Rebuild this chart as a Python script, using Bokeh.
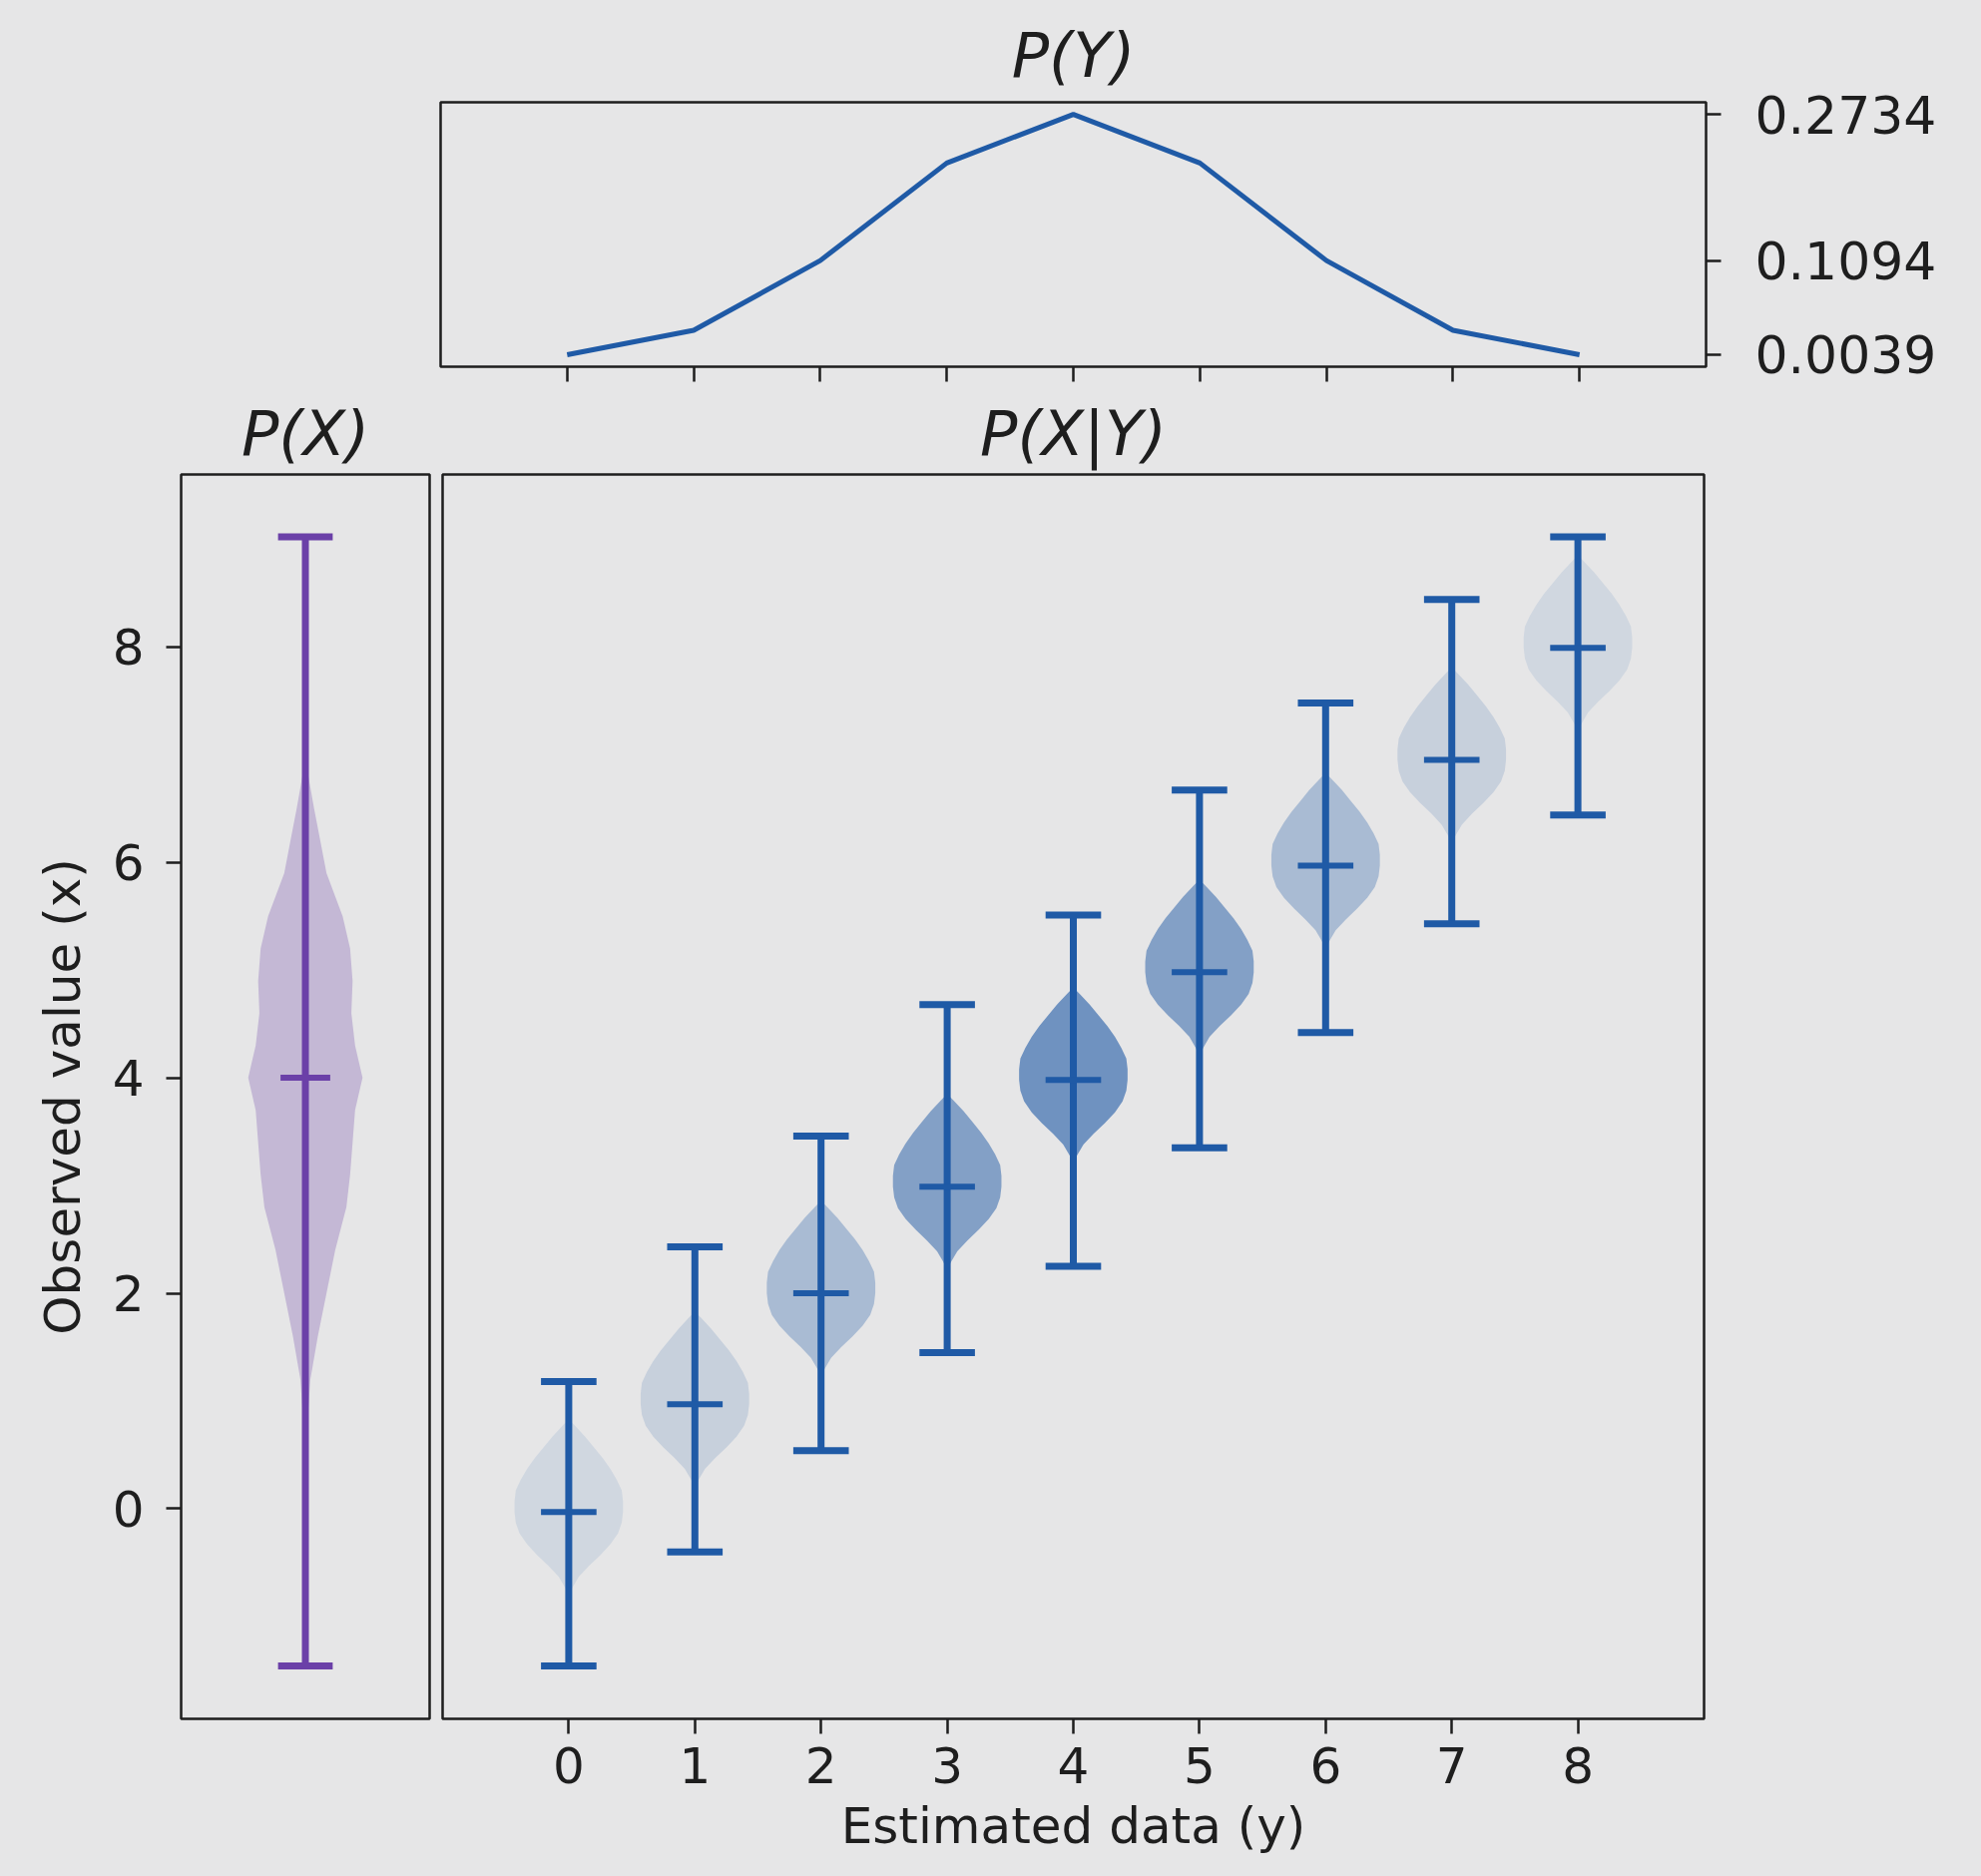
import numpy as np
from bokeh.plotting import figure
from bokeh.layouts import column, row
from bokeh.models import Range1d
from bokeh.embed import file_html
from bokeh.resources import INLINE

# ---------------- data ----------------
y_values = [0, 1, 2, 3, 4, 5, 6, 7, 8]
p_y = [0.0039, 0.0312, 0.1094, 0.2188, 0.2734, 0.2188, 0.1094, 0.0312, 0.0039]
p_y_ticks = [0.0039, 0.1094, 0.2734]
p_y_tick_labels = ["0.0039", "0.1094", "0.2734"]

x_ticks = [0, 2, 4, 6, 8]

# conditional distributions P(X|Y=y)
cond_means = [-0.03, 0.97, 2.0, 2.99, 3.98, 4.98, 5.97, 6.95, 7.99]
cond_mins = [-1.46, -0.40, 0.54, 1.45, 2.25, 3.35, 4.42, 5.43, 6.44]
cond_maxs = [1.18, 2.43, 3.46, 4.68, 5.51, 6.67, 7.48, 8.44, 9.02]
# violin outline (offset from mean, half width)
violin_offsets = [-0.78, -0.70, -0.60, -0.50, -0.40, -0.30, -0.20, -0.10, 0.0,
                  0.10, 0.20, 0.30, 0.40, 0.50, 0.60, 0.70, 0.80, 0.86]
violin_halfwidths = [0.00, 0.03, 0.08, 0.16, 0.25, 0.33, 0.39, 0.42, 0.43,
                     0.43, 0.42, 0.38, 0.33, 0.27, 0.20, 0.13, 0.05, 0.00]

# marginal P(X)
px_mean = 4.0
px_min = -1.46
px_max = 9.02
px_levels = [0.5, 0.8, 1.2, 1.6, 2.0, 2.4, 2.8, 3.1, 3.4, 3.7, 4.0, 4.3, 4.6,
             4.9, 5.2, 5.5, 5.9, 6.2, 6.5, 6.8, 7.2, 7.6]
px_halfwidths = [0.0, 0.008, 0.02, 0.05, 0.085, 0.12, 0.165, 0.18, 0.19, 0.20,
                 0.23, 0.20, 0.185, 0.19, 0.18, 0.15, 0.085, 0.06, 0.035,
                 0.012, 0.004, 0.0]

# ---------------- style ----------------
BG = "#e6e6e7"
INK = "#1e1e1e"
BLUE = "#1f5aa6"
PURPLE = "#6b40a8"
FONT = "DejaVu Sans"
TICK_PX = "50px"
TITLE_PX = "62px"
LW = 7

def style(p, title_standoff):
    p.background_fill_color = BG
    p.border_fill_color = BG
    p.outline_line_color = INK
    p.outline_line_width = 2.5
    p.outline_line_alpha = 1.0
    p.xgrid.visible = False
    p.ygrid.visible = False
    p.title.text_font = FONT
    p.title.text_font_size = TITLE_PX
    p.title.text_font_style = "italic"
    p.title.text_color = INK
    p.title.align = "center"
    p.title.standoff = title_standoff
    for ax in p.axis:
        ax.axis_line_color = None
        ax.major_tick_line_color = INK
        ax.major_tick_line_width = 2.5
        ax.major_tick_out = 15
        ax.major_tick_in = 0
        ax.minor_tick_line_color = None
        ax.major_label_text_font = FONT
        ax.major_label_text_font_size = TICK_PX
        ax.major_label_text_color = INK
        ax.axis_label_text_font = FONT
        ax.axis_label_text_font_size = TICK_PX
        ax.axis_label_text_font_style = "normal"
        ax.axis_label_text_color = INK

TOTAL_W = 1963
TOP_H = 391
# ---------------- top: P(Y) ----------------
top = figure(width=TOTAL_W, height=TOP_H, x_range=Range1d(-1, 9),
             y_range=Range1d(-0.0096, 0.2869), y_axis_location="right",
             output_backend="svg", toolbar_location=None, title="P(Y)",
             min_border_left=441, min_border_right=254,
             min_border_top=102, min_border_bottom=24)
top.line(y_values, p_y, line_color=BLUE, line_width=5)
style(top, 22)
top.xaxis.ticker = y_values
top.xaxis.major_label_overrides = {v: "" for v in y_values}
top.xaxis.major_label_standoff = 0
top.yaxis.ticker = p_y_ticks
top.yaxis.major_label_overrides = {t: s for t, s in zip(p_y_ticks, p_y_tick_labels)}
top.yaxis.major_label_text_font_size = "52px"
top.yaxis.major_label_standoff = 34

shared_y = Range1d(-1.95, 9.6)
ROW_H = 1486
ROW_TOP = 81
ROW_BOTTOM = 155
LEFT_W = 438

# ---------------- left: P(X) ----------------
left = figure(width=LEFT_W, height=ROW_H, x_range=Range1d(0.5, 1.5), y_range=shared_y,
              x_axis_location=None, output_backend="svg", toolbar_location=None,
              title="P(X)", min_border_left=181, min_border_right=8,
              min_border_top=ROW_TOP, min_border_bottom=ROW_BOTTOM)
xs = [1 + w for w in px_halfwidths] + [1 - w for w in reversed(px_halfwidths)]
ys = list(px_levels) + list(reversed(px_levels))
left.patch(xs, ys, fill_color=PURPLE, fill_alpha=0.28, line_color=None)
left.segment(x0=[1], y0=[px_min], x1=[1], y1=[px_max], line_color=PURPLE, line_width=LW)
left.segment(x0=[1 - 0.11, 1 - 0.11], y0=[px_min, px_max], x1=[1 + 0.11, 1 + 0.11],
             y1=[px_min, px_max], line_color=PURPLE, line_width=LW)
left.segment(x0=[1 - 0.10], y0=[px_mean], x1=[1 + 0.10], y1=[px_mean],
             line_color=PURPLE, line_width=LW - 1)
style(left, 9)
left.yaxis.ticker = x_ticks
left.yaxis.axis_label = "Observed value (x)"
left.yaxis.major_label_standoff = 22
left.yaxis.axis_label_standoff = 18

# ---------------- main: P(X|Y) ----------------
main = figure(width=TOTAL_W - LEFT_W, height=ROW_H, x_range=Range1d(-1, 9), y_range=shared_y,
              y_axis_location=None, output_backend="svg", toolbar_location=None,
              title="P(X|Y)", min_border_left=5, min_border_right=256,
              min_border_top=ROW_TOP, min_border_bottom=ROW_BOTTOM)
pmax = max(p_y)
vx, vy, va = [], [], []
for k, m, p in zip(y_values, cond_means, p_y):
    vx.append([k + w for w in violin_halfwidths] + [k - w for w in reversed(violin_halfwidths)])
    vy.append([m + o for o in violin_offsets] + [m + o for o in reversed(violin_offsets)])
    va.append(0.1 + 0.5 * p / pmax)
main.patches(xs=vx, ys=vy, fill_color=BLUE, fill_alpha=va, line_color=None)
main.segment(x0=y_values, y0=cond_mins, x1=y_values, y1=cond_maxs,
             line_color=BLUE, line_width=LW)
cap = 0.22
main.segment(x0=[k - cap for k in y_values], y0=cond_mins,
             x1=[k + cap for k in y_values], y1=cond_mins, line_color=BLUE, line_width=LW)
main.segment(x0=[k - cap for k in y_values], y0=cond_maxs,
             x1=[k + cap for k in y_values], y1=cond_maxs, line_color=BLUE, line_width=LW)
main.segment(x0=[k - cap for k in y_values], y0=cond_means,
             x1=[k + cap for k in y_values], y1=cond_means, line_color=BLUE, line_width=LW - 1)
style(main, 9)
main.xaxis.ticker = y_values
main.xaxis.axis_label = "Estimated data (y)"
main.xaxis.major_label_standoff = 13
main.xaxis.axis_label_standoff = 11

layout = column(top, row(left, main))
html = file_html(layout, INLINE)
html = html.replace("</head>", "<style>html, body { background: %s; }</style>\n</head>" % BG, 1)
open("out.html", "w").write(html)
